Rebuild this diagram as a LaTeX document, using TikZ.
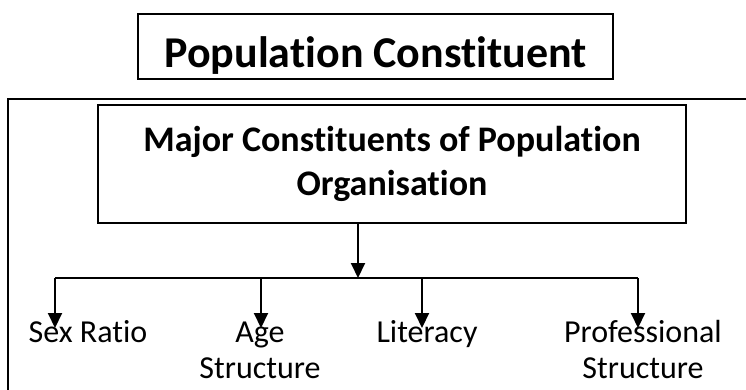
\documentclass[tikz,border=0pt]{standalone}
\usepackage{fontspec}
\setmainfont{Carlito}[Ligatures=NoCommon]
\usetikzlibrary{arrows.meta}
\begin{document}
\begin{tikzpicture}[x=1pt,y=-1pt,
  frame/.style={draw=black, line width=1.5pt},
  titlebox/.style={frame, inner sep=0pt, font=\bfseries\fontsize{44}{50}\selectfont},
  majorbox/.style={frame, inner sep=0pt, align=center, font=\bfseries\fontsize{36}{44}\selectfont},
  lab/.style={inner sep=0pt, align=center, font=\fontsize{32}{36}\selectfont},
  link/.style={draw=black, line width=2pt},
  arr/.style={link, -{Triangle[length=15pt,width=14pt]}}]
\useasboundingbox (0,0) rectangle (746,389);
% outer frame (open to right and bottom)
\draw[frame] (750,99) -- (8,99) -- (8,395);
% title
\node[titlebox, minimum width=475pt, minimum height=65pt, text height=41pt, text depth=0pt] (title) at (375.5,46.5) {Population Constituent};
% main box
\node[majorbox, minimum width=588pt, minimum height=118pt] (major) at (392,164) {Major Constituents of Population\\Organisation};
% distribution bar
\coordinate (hub) at (358,278);
\coordinate (b1) at (55,278);
\coordinate (b2) at (261,278);
\coordinate (b3) at (422,278);
\coordinate (b4) at (638,278);
\coordinate (t1) at (55,328);
\coordinate (t2) at (261,328);
\coordinate (t3) at (422,328);
\coordinate (t4) at (638,328);
\draw[arr] (major.south -| hub) -- (hub);
\draw[link] (b1) -- (b4);
\draw[arr] (b1) -- (t1);
\draw[arr] (b2) -- (t2);
\draw[arr] (b3) -- (t3);
\draw[arr] (b4) -- (t4);
% labels
\node[lab, anchor=base] (sex) at (88,342) {Sex Ratio};
\node[lab, anchor=base] (age) at (260,378) {Age\\Structure};
\node[lab, anchor=base] (lit) at (427,342) {Literacy};
\node[lab, anchor=base] (prof) at (643,378) {Professional\\Structure};
\end{tikzpicture}
\end{document}
